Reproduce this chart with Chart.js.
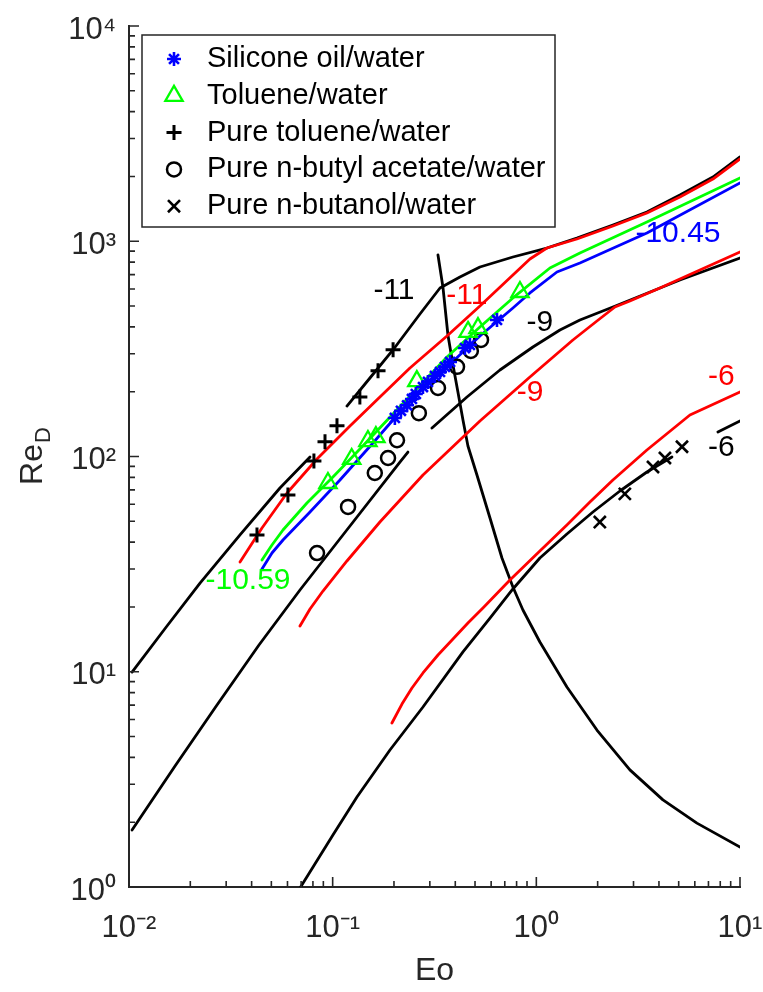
<!DOCTYPE html>
<html>
<head>
<meta charset="utf-8">
<script src="https://cdn.jsdelivr.net/npm/chart.js@4.4.1/dist/chart.umd.min.js"></script>
<style>
html, body { margin: 0; padding: 0; background: #ffffff; }
canvas { display: block; }
</style>
</head>
<body>
<canvas id="c" width="763" height="992" style="width:763px;height:992px"></canvas>
<script>
// ---------------- Data (Eo, Re_D) ----------------
// Experimental points
const siliconeEo = [0.202, 0.2164, 0.232, 0.245, 0.256, 0.2776, 0.2936, 0.3178, 0.3365, 0.356, 0.377, 0.446, 0.472, 0.641];
const siliconeRe = [151, 163, 173, 185, 195, 210.3, 221.9, 236.6, 247, 261, 275, 319, 330, 431];
const tolueneEo = [0.0948, 0.124, 0.149, 0.163, 0.259, 0.462, 0.517, 0.831];
const tolueneRe = [75.3, 97.4, 118, 123, 224, 379, 395, 581];
const pureTolueneEo = [0.0425, 0.0603, 0.0809, 0.0917, 0.105, 0.136, 0.167, 0.198];
const pureTolueneRe = [43.2, 66.2, 95.3, 117, 139, 189, 250, 313];
const butylAcetateEo = [0.0838, 0.119, 0.161, 0.187, 0.207, 0.265, 0.329, 0.408, 0.477, 0.535];
const butylAcetateRe = [35.6, 58.3, 83.8, 98.4, 119, 159, 208, 261, 309, 348];
const butanolEo = [2.05, 2.72, 3.74, 4.28, 5.19];
const butanolRe = [49.6, 67.0, 89.4, 98.4, 111];

// Contour lines (log Mo)
const k11aEo = [0.01035, 0.0152, 0.02232, 0.03508, 0.0551, 0.0774];
const k11aRe = [9.97, 16.1, 25.8, 43.2, 71.4, 99.5];
const k11bEo = [0.1175, 0.1524, 0.1977, 0.2683, 0.3365, 0.4217, 0.5286, 0.7674, 1.127, 1.582, 2.377, 3.491, 5.07, 7.362, 10];
const k11bRe = [171.6, 231.6, 312.5, 459.2, 606.6, 682.2, 759.2, 845, 930, 1035, 1190, 1367, 1640, 1988, 2463];
const r11Eo = [0.03508, 0.04497, 0.0597, 0.08375, 0.1216, 0.1706, 0.2396, 0.3641, 0.5286, 0.7674, 0.9302, 1.127, 1.582, 2.377, 3.491, 5.07, 7.362, 10];
const r11Re = [32.35, 46.54, 67.68, 97.36, 138.6, 189.0, 257.7, 362.9, 500.2, 697, 827, 930, 1024, 1177, 1353, 1606, 1946, 2411];
const g1059Eo = [0.04497, 0.05035, 0.05702, 0.07477, 0.1003, 0.1361, 0.1977, 0.2478, 0.3641, 0.5286, 0.7674, 1.166, 1.637, 3.491, 10];
const g1059Re = [33.05, 38.81, 45.56, 60.81, 80.31, 108.3, 157.6, 197.2, 289.9, 399.5, 545.2, 751.1, 881.9, 1229, 1967];
const b1045Eo = [0.04497, 0.05035, 0.05702, 0.0774, 0.1086, 0.1577, 0.1977, 0.2478, 0.3641, 0.5286, 0.7674, 0.9302, 1.262, 1.637, 3.491, 10];
const b1045Re = [30.02, 35.63, 40.94, 55.23, 77.77, 115.5, 147.8, 187.0, 260.4, 362.9, 489.6, 575.1, 719.6, 792.4, 1092, 1865];
const k9aEo = [0.01035, 0.01683, 0.02704, 0.04347, 0.0691, 0.1216, 0.2139, 0.2342];
const k9aRe = [1.84, 3.649, 7.006, 13.31, 23.98, 47.55, 94.27, 104.9];
const k9bEo = [0.3073, 0.4565, 0.6628, 0.9623, 1.306, 1.637, 2.377, 5.07, 10];
const k9bRe = [135.6, 189.0, 252.3, 322.7, 387.0, 430.7, 494.9, 660.7, 836];
const r9Eo = [0.0691, 0.0774, 0.08962, 0.1175, 0.1706, 0.2776, 0.5286, 0.9302, 1.512, 1.984, 2.432, 2.88, 4.045, 6.356, 10];
const r9Re = [16.31, 19.56, 23.72, 32.70, 49.63, 82.06, 146.2, 234.0, 347.8, 426.1, 494.9, 527.8, 606.6, 735.2, 891.5];
const k6aEo = [0.0691, 0.1003, 0.1316, 0.1911, 0.2776, 0.4363, 0.5921, 0.7674, 1.041, 1.413, 1.896, 2.573, 3.491, 4.632];
const k6aRe = [0.989, 1.745, 2.62, 4.33, 6.86, 12.36, 17.77, 24.24, 33.76, 43.65, 55.23, 69.14, 84.72, 99.5];
const k6bEo = [7.79, 10];
const k6bRe = [130.0, 146.2];
const r6Eo = [0.1954, 0.2189, 0.2451, 0.2776, 0.3289, 0.3897, 0.4615, 0.5469, 0.742, 1.041, 1.413, 1.833, 2.377, 3.491, 5.677, 10];
const r6Re = [5.78, 7.08, 8.40, 9.87, 11.96, 14.20, 16.85, 19.78, 26.69, 36.39, 48.06, 61.44, 77.77, 107.2, 155.9, 199.4];
const boundEo = [0.3289, 0.3478, 0.3681, 0.3897, 0.4121, 0.4363, 0.4615, 0.511, 0.5921, 0.678, 0.7674, 0.8594, 1.041, 1.413, 1.984, 2.88, 4.184, 6.144, 10];
const boundRe = [863.2, 613.2, 366.8, 266.1, 199.4, 147.8, 111.9, 82.06, 51.81, 33.76, 24.76, 19.36, 13.75, 8.50, 5.36, 3.50, 2.54, 1.98, 1.534];

// Contour labels
const contourLabels = ['-11', '-11', '-9', '-9', '-6', '-6', '-10.59', '-10.45'];
const contourLabelEo = [0.200, 0.456, 1.04, 0.931, 8.10, 8.10, 0.0384, 4.96];
const contourLabelRe = [587, 557, 417, 197, 234, 109.5, 26.4, 1081];

// Axis ticks and titles
const xTickValues = [0.01, 0.1, 1, 10];
const xTickLabels = ['10\u207B\u00B2', '10\u207B\u00B9', '10\u2070', '10\u00B9'];
const yTickValues = [1, 10, 100, 1000, 10000];
const yTickLabels = ['10\u2070', '10\u00B9', '10\u00B2', '10\u00B3', '10\u2074'];
const xTitle = 'Eo';
const yTitleMain = 'Re';
const yTitleSub = 'D';
const legendLabels = ['Silicone oil/water', 'Toluene/water', 'Pure toluene/water', 'Pure n-butyl acetate/water', 'Pure n-butanol/water'];

// ---------------- Styling / chart ----------------
const FONT = '"Liberation Sans", Arial, Helvetica, sans-serif';
const AXIS = '#262626';
const BLUE = '#0000ff', GREEN = '#00ff00', RED = '#ff0000', BLACK = '#000000';
const contourLabelColors = [BLACK, RED, BLACK, RED, RED, BLACK, GREEN, BLUE];

const pts = (xs, ys) => xs.map((v, i) => ({ x: v, y: ys[i] }));
const markerSet = (label, xs, ys, style, color, radius, width) => ({
  label, data: pts(xs, ys), showLine: false,
  pointStyle: style, pointRadius: radius, pointHoverRadius: radius,
  pointBorderWidth: width, pointHoverBorderWidth: width,
  borderColor: color, backgroundColor: 'rgba(0,0,0,0)',
  pointBorderColor: color, pointBackgroundColor: 'rgba(0,0,0,0)'
});
const curve = (xs, ys, color) => ({
  label: '', data: pts(xs, ys), showLine: true,
  pointRadius: 0, pointHoverRadius: 0,
  borderColor: color, backgroundColor: color, borderWidth: 2.8,
  tension: 0, fill: false,
  borderCapStyle: 'round', borderJoinStyle: 'round'
});

const datasets = [
  markerSet(legendLabels[0], siliconeEo, siliconeRe, 'star', BLUE, 7, 2.6),
  markerSet(legendLabels[1], tolueneEo, tolueneRe, 'triangle', GREEN, 10, 2.3),
  markerSet(legendLabels[2], pureTolueneEo, pureTolueneRe, 'cross', BLACK, 7.5, 3),
  markerSet(legendLabels[3], butylAcetateEo, butylAcetateRe, 'circle', BLACK, 7, 2.5),
  markerSet(legendLabels[4], butanolEo, butanolRe, 'crossRot', BLACK, 8.5, 2.6),
  curve(b1045Eo, b1045Re, BLUE),
  curve(g1059Eo, g1059Re, GREEN),
  curve(r11Eo, r11Re, RED),
  curve(r9Eo, r9Re, RED),
  curve(r6Eo, r6Re, RED),
  curve(k11aEo, k11aRe, BLACK),
  curve(k11bEo, k11bRe, BLACK),
  curve(k9aEo, k9aRe, BLACK),
  curve(k9bEo, k9bRe, BLACK),
  curve(k6aEo, k6aRe, BLACK),
  curve(k6bEo, k6bRe, BLACK),
  curve(boundEo, boundRe, BLACK)
];

const decorPlugin = {
  id: 'decor',
  afterDatasetsDraw(chart) {
    const { ctx, scales: { x, y } } = chart;
    ctx.save();
    ctx.font = '30px ' + FONT;
    ctx.textAlign = 'center';
    ctx.textBaseline = 'middle';
    contourLabels.forEach((t, i) => {
      ctx.fillStyle = contourLabelColors[i];
      ctx.fillText(t, x.getPixelForValue(contourLabelEo[i]), y.getPixelForValue(contourLabelRe[i]));
    });
    ctx.restore();
  },
  afterDraw(chart) {
    const { ctx, chartArea: a, scales: { x, y } } = chart;
    ctx.save();
    // inward tick marks (major + minor)
    ctx.strokeStyle = AXIS;
    ctx.lineWidth = 1.6;
    ctx.beginPath();
    for (let k = -2; k <= 1; k++) {
      for (let m = 1; m <= 9; m++) {
        const v = m * Math.pow(10, k);
        if (v > 10.0001) break;
        const px = x.getPixelForValue(v);
        const len = m === 1 ? 10 : 6;
        ctx.moveTo(px, a.bottom); ctx.lineTo(px, a.bottom - len);
      }
    }
    for (let k = 0; k <= 4; k++) {
      for (let m = 1; m <= 9; m++) {
        const v = m * Math.pow(10, k);
        if (v > 10000.1) break;
        const py = y.getPixelForValue(v);
        const len = m === 1 ? 10 : 6;
        ctx.moveTo(a.left, py); ctx.lineTo(a.left + len, py);
      }
    }
    ctx.stroke();

    // y-axis title with subscript
    ctx.save();
    ctx.translate(31, (a.top + a.bottom) / 2);
    ctx.rotate(-Math.PI / 2);
    ctx.fillStyle = AXIS;
    ctx.textBaseline = 'alphabetic';
    ctx.textAlign = 'left';
    ctx.font = '32px ' + FONT;
    const wRe = ctx.measureText(yTitleMain).width;
    ctx.font = '22px ' + FONT;
    const wD = ctx.measureText(yTitleSub).width;
    const start = -(wRe + wD) / 2;
    ctx.font = '32px ' + FONT;
    ctx.fillText(yTitleMain, start, 11);
    ctx.font = '22px ' + FONT;
    ctx.fillText(yTitleSub, start + wRe + 1, 19);
    ctx.restore();

    // legend box
    const L = { x: a.left + 13, y: a.top + 9, w: 413, h: 192 };
    ctx.fillStyle = '#ffffff';
    ctx.fillRect(L.x, L.y, L.w, L.h);
    ctx.strokeStyle = AXIS;
    ctx.lineWidth = 1.5;
    ctx.strokeRect(L.x, L.y, L.w, L.h);
    ctx.font = '29px ' + FONT;
    ctx.textAlign = 'left';
    ctx.textBaseline = 'middle';
    for (let i = 0; i < legendLabels.length; i++) {
      const ds = chart.data.datasets[i];
      const ry = L.y + 24 + i * 36.8;
      const mx = L.x + 32;
      ctx.strokeStyle = ds.pointBorderColor;
      ctx.fillStyle = 'rgba(0,0,0,0)';
      ctx.lineWidth = ds.pointBorderWidth;
      Chart.helpers.drawPoint(ctx, { pointStyle: ds.pointStyle, radius: ds.pointRadius, borderWidth: ds.pointBorderWidth, rotation: 0 }, mx, ry);
      ctx.fillStyle = BLACK;
      ctx.fillText(legendLabels[i], L.x + 65, ry);
    }
    ctx.restore();
  }
};

const tickFont = { family: FONT, size: 31 };

new Chart(document.getElementById('c'), {
  type: 'scatter',
  data: { datasets },
  options: {
    responsive: false,
    maintainAspectRatio: false,
    devicePixelRatio: 1,
    animation: false,
    events: [],
    layout: { padding: { top: 26, right: 23, left: 0, bottom: 0 } },
    plugins: { legend: { display: false }, tooltip: { enabled: false } },
    scales: {
      x: {
        type: 'logarithmic', position: 'bottom', min: 0.01, max: 10,
        afterBuildTicks: (s) => { s.ticks = xTickValues.map(v => ({ value: v, major: true })); },
        afterFit: (s) => { s.height = 105; s.paddingLeft = 0; s.paddingRight = 0; },
        grid: { display: false, drawTicks: false },
        border: { display: true, color: AXIS, width: 2 },
        ticks: {
          autoSkip: false, maxRotation: 0, minRotation: 0, padding: 23,
          color: AXIS, font: tickFont,
          callback: (v) => { const i = xTickValues.findIndex(t => Math.abs(t - v) < t * 1e-6); return i >= 0 ? xTickLabels[i] : ''; }
        },
        title: { display: true, text: xTitle, color: AXIS, font: { family: FONT, size: 32 }, padding: { top: 0, bottom: 2 } }
      },
      y: {
        type: 'logarithmic', position: 'left', min: 1, max: 10000,
        afterBuildTicks: (s) => { s.ticks = yTickValues.map(v => ({ value: v, major: true })); },
        afterFit: (s) => { s.width = 129; s.paddingTop = 0; s.paddingBottom = 0; },
        grid: { display: false, drawTicks: false },
        border: { display: true, color: AXIS, width: 2 },
        ticks: {
          autoSkip: false, padding: 13, labelOffset: 4,
          color: AXIS, font: tickFont,
          callback: (v) => { const i = yTickValues.findIndex(t => Math.abs(t - v) < t * 1e-6); return i >= 0 ? yTickLabels[i] : ''; }
        },
        title: { display: false }
      }
    }
  },
  plugins: [decorPlugin]
});
</script>
</body>
</html>
